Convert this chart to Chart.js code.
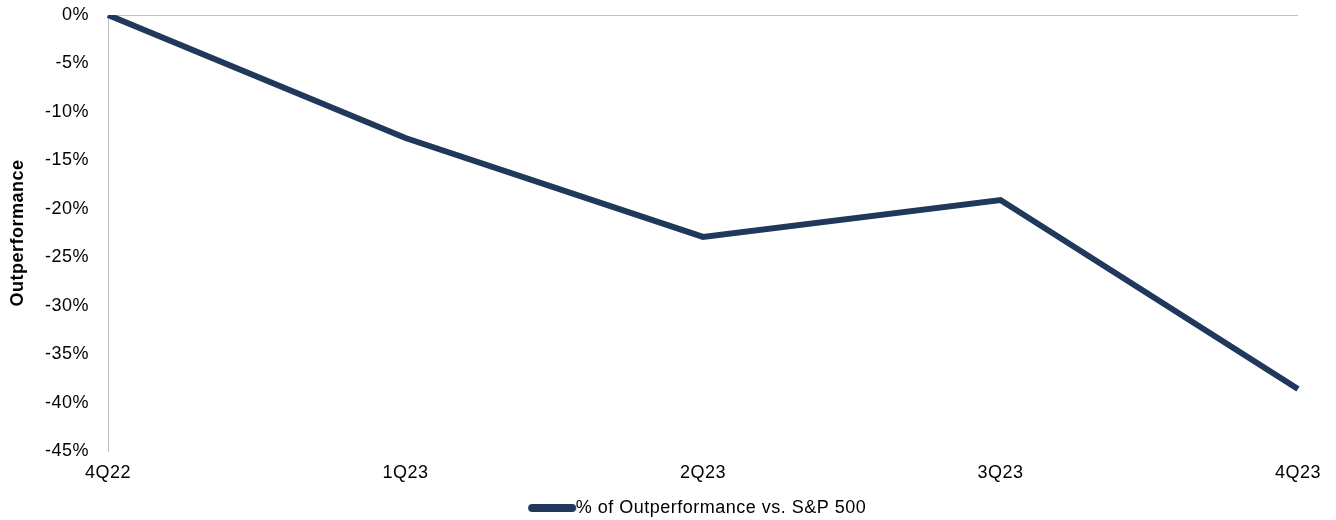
<!DOCTYPE html>
<html>
<head>
<meta charset="utf-8">
<script src="https://cdn.jsdelivr.net/npm/chart.js@4.4.1/dist/chart.umd.min.js"></script>
<style>
html,body{margin:0;padding:0;background:#fff;}
#wrap{width:1336px;height:520px;position:relative;}
</style>
</head>
<body>
<div id="wrap"><canvas id="c" width="1336" height="520"></canvas></div>
<script>
const categories = ['4Q22', '1Q23', '2Q23', '3Q23', '4Q23'];
const outperformance = [0, -12.7, -22.9, -19.1, -38.6];
const seriesName = '% of Outperformance vs. S&P 500';
const yTitle = 'Outperformance';

const FONT = "'Liberation Sans', Arial, sans-serif";
const LINE = '#1F385C';
const SPACING = '0.5px';

// legend swatch: a thick round-capped line, drawn into a small canvas
const LEG_BOX = 135, LEG_IMG_W = 160, LEG_LINE_START = 113, LEG_LINE_LEN = 40;
const swatch = document.createElement('canvas');
swatch.width = LEG_IMG_W; swatch.height = 12;
(function () {
  const g = swatch.getContext('2d');
  g.strokeStyle = LINE; g.lineWidth = 8; g.lineCap = 'round';
  g.beginPath(); g.moveTo(LEG_LINE_START, 6); g.lineTo(LEG_LINE_START + LEG_LINE_LEN, 6); g.stroke();
})();

const spacingPlugin = {
  id: 'spacing',
  beforeInit(chart) { chart.ctx.letterSpacing = SPACING; },
  beforeLayout(chart) { chart.ctx.letterSpacing = SPACING; },
  beforeDraw(chart) { chart.ctx.letterSpacing = SPACING; }
};

new Chart(document.getElementById('c'), {
  type: 'line',
  plugins: [spacingPlugin],
  data: {
    labels: categories,
    datasets: [{
      label: seriesName,
      data: outperformance,
      borderColor: LINE,
      backgroundColor: LINE,
      borderWidth: 6,
      borderCapStyle: 'butt',
      borderJoinStyle: 'miter',
      pointRadius: 0,
      pointHoverRadius: 0,
      tension: 0,
      fill: false
    }]
  },
  options: {
    responsive: false,
    animation: false,
    devicePixelRatio: 1,
    layout: { padding: { left: 0, right: 38, top: 15, bottom: -7 } },
    plugins: {
      tooltip: { enabled: false },
      legend: {
        position: 'bottom',
        labels: {
          usePointStyle: true,
          pointStyleWidth: LEG_BOX,
          color: '#000',
          padding: 2,
          font: { family: FONT, size: 18 },
          generateLabels: (chart) => {
            const items = Chart.defaults.plugins.legend.labels.generateLabels(chart);
            items.forEach(i => { i.pointStyle = swatch; i.fontColor = '#000'; });
            return items;
          }
        }
      }
    },
    scales: {
      x: {
        offset: false,
        grid: { display: false, drawTicks: false },
        border: { display: false },
        ticks: { color: '#000', font: { family: FONT, size: 18 }, padding: 11, maxRotation: 0, autoSkip: false },
        afterFit: (s) => { s.height = 46; }
      },
      y: {
        min: -45,
        max: 0,
        grid: {
          drawTicks: false,
          color: (ctx) => ctx.tick && ctx.tick.value === 0 ? '#C0C0C0' : 'rgba(0,0,0,0)',
          lineWidth: 1
        },
        border: { display: true, color: '#C0C0C0', width: 1 },
        ticks: {
          stepSize: 5,
          color: '#000',
          padding: 19,
          font: { family: FONT, size: 18 },
          callback: (v) => v + '%'
        },
        title: {
          display: true,
          text: yTitle,
          color: '#000',
          font: { family: FONT, size: 18, weight: 'bold' },
          padding: { top: 7, bottom: 0 }
        },
        afterFit: (s) => { s.width = 108; s.paddingTop = 0; s.paddingBottom = 0; }
      }
    }
  }
});
</script>
</body>
</html>
